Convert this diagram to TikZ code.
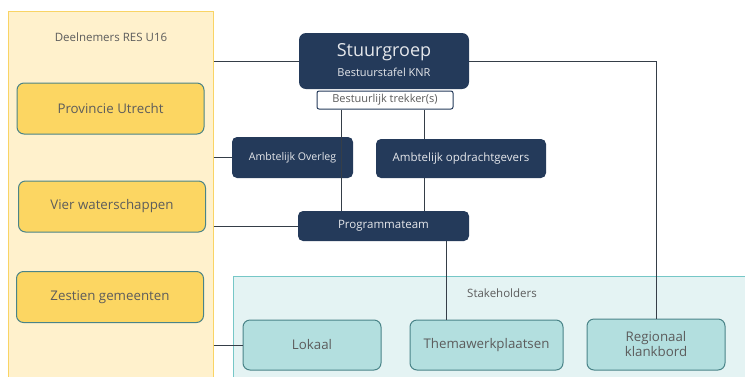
\documentclass[tikz,border=0pt]{standalone}
\usepackage{fontspec}
\setmainfont{Open Sans}
\definecolor{navy}{HTML}{243A5A}
\definecolor{lijn}{HTML}{353E48}
\definecolor{geelvlak}{HTML}{FFF1CC}
\definecolor{geelrand}{HTML}{F9D465}
\definecolor{geel}{HTML}{FCD662}
\definecolor{tealrand}{HTML}{4A8488}
\definecolor{tealvlak}{HTML}{E4F3F3}
\definecolor{tealkader}{HTML}{76C7C7}
\definecolor{teal}{HTML}{B3DFDF}
\definecolor{tekst}{HTML}{5C5C5C}
\begin{document}
\begin{tikzpicture}[x=1pt,y=-1pt,
    panel/.style={draw, line width=1pt, inner sep=0pt},
    geelbox/.style={draw=tealrand, fill=geel, line width=1pt, rounded corners=7pt,
      minimum width=187pt, minimum height=51pt, text=tekst, font=\fontsize{13.3}{15}\selectfont},
    tealbox/.style={draw=tealrand, fill=teal, line width=1pt, rounded corners=7pt,
      minimum width=138pt, minimum height=50pt, text=tekst, font=\fontsize{13.3}{15}\selectfont, align=center},
    navybox/.style={fill=navy, rounded corners=5pt, text=white!88!navy,
      font=\fontsize{11.5}{13}\selectfont, inner sep=0pt},
    kop/.style={text=tekst, font=\fontsize{11.5}{13}\selectfont},
    verbind/.style={draw=lijn, line width=0.9pt}]
      % Fixed frame, drawn first
      \clip (0,0) rectangle (745,376);

      % Panels behind everything
      \node[panel, draw=geelrand, fill=geelvlak, minimum width=205pt, minimum height=380pt] (deelnemers) at (110.5,201) {};
      \node[kop] (deelkop) at (111,37) {Deelnemers RES U16};
      \node[panel, draw=tealkader, fill=tealvlak, minimum width=527pt, minimum height=114pt] (stakeholders) at (496.5,333) {};
      \node[kop] (stakekop) at (502,293) {Stakeholders};

      % Participants
      \node[geelbox] (provincie) at (110.5,108.5) {Provincie Utrecht};
      \node[geelbox] (water) at (112,206.5) {Vier waterschappen};
      \node[geelbox] (gemeenten) at (110,297) {Zestien gemeenten};

      % Governance
      \node[navybox, rounded corners=7pt, minimum width=170pt, minimum height=56pt] (stuurgroep) at (384,61) {};
      \node[text=white!88!navy, font=\fontsize{18}{20}\selectfont, inner sep=0pt] (stuurkop) at (384,52) {Stuurgroep};
      \node[text=white!88!navy, font=\fontsize{11}{13}\selectfont, inner sep=0pt] (stuursub) at (384,72) {Bestuurstafel KNR};
      \node[draw=navy, line width=1pt, fill=white, rounded corners=2pt, minimum width=136pt, minimum height=18pt,
        inner sep=0pt, text=tekst, font=\fontsize{11}{13}\selectfont] (trekker) at (385,100) {Bestuurlijk trekker(s)};
      \node[navybox, minimum width=121pt, minimum height=41pt, font=\fontsize{10.6}{12}\selectfont] (ambtoverleg) at (292.5,157.5) {Ambtelijk Overleg};
      \node[navybox, minimum width=170pt, minimum height=39pt] (ambtopdracht) at (461,158.5) {Ambtelijk opdrachtgevers};
      \node[navybox, minimum width=171pt, minimum height=30pt] (programma) at (383.5,226) {Programmateam};

      % Stakeholder groups
      \node[tealbox] (lokaal) at (312,345) {Lokaal};
      \node[tealbox, minimum width=153pt] (thema) at (486.5,345) {Themawerkplaatsen};
      \node[tealbox, minimum height=51pt] (regionaal) at (656,344.5) {Regionaal\\klankbord};

      % Connection points under the trekker box
      \coordinate (trekL) at ([xshift=-44pt]trekker.south);
      \coordinate (trekR) at ([xshift=39pt]trekker.south);
      \coordinate (progR) at ([xshift=63pt]programma.south);

      % Lines from the participants panel
      \draw[verbind] (deelnemers.east |- stuurgroep.west) -- (stuurgroep.west);
      \draw[verbind] (deelnemers.east |- ambtoverleg.west) -- (ambtoverleg.west);
      \draw[verbind] (deelnemers.east |- programma.west) -- (programma.west);
      \draw[verbind] (deelnemers.east |- lokaal.west) -- (lokaal.west);

      % Lines in the governance part
      \draw[verbind] (stuurgroep.east) -| (regionaal.north);
      \draw[verbind] (trekL) -- (trekL |- programma.north);
      \draw[verbind] (trekR) -- (trekR |- ambtopdracht.north);
      \draw[verbind] (trekR |- ambtopdracht.south) -- (trekR |- programma.north);
      \draw[verbind] (progR) -- (progR |- thema.north);
\end{tikzpicture}
\end{document}
